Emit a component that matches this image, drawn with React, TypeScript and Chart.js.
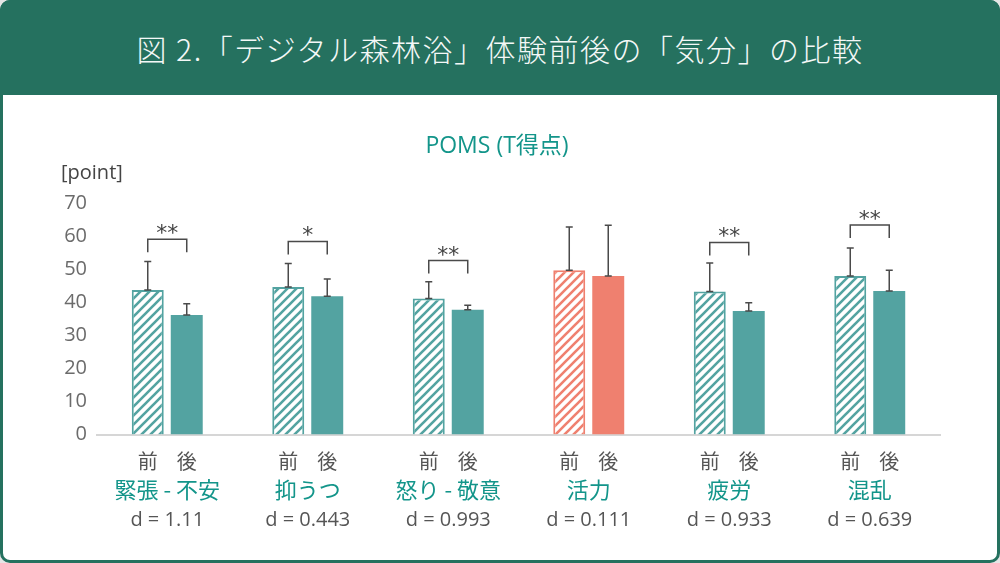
import React, { useEffect, useRef } from "react";
import { Chart, registerables } from "chart.js";

Chart.register(...registerables);

// ---- data ----
const chartTitle = "POMS (T得点)";
const yAxisUnit = "[point]";
const categories = ["緊張 - 不安", "抑うつ", "怒り - 敬意", "活力", "疲労", "混乱"];
const timeLabels = ["前", "後"];
const preMeans = [43.8, 44.7, 41.2, 49.8, 43.3, 48.0];
const postMeans = [36.2, 41.9, 37.8, 48.0, 37.4, 43.5];
const preSD = [8.6, 7.1, 5.1, 13.1, 8.7, 8.5];
const postSD = [3.4, 5.2, 1.4, 15.4, 2.5, 6.3];
const effectSizes = ["d = 1.11", "d = 0.443", "d = 0.993", "d = 0.111", "d = 0.933", "d = 0.639"];
const significance = ["**", "*", "**", "", "**", "**"];
const bracketLevels: (number | null)[] = [59.2, 58.5, 52.7, null, 58.2, 63.5];
const yTicks = [0, 10, 20, 30, 40, 50, 60, 70];
const highlighted = [false, false, false, true, false, false];

// ---- styles ----
const TEAL = "#53a3a1";
const SALMON = "#ef806f";
const HEADER = "#25715f";
const TEXT_TEAL = "#13958a";
const FONT = '"Open Sans", "Noto Sans CJK JP", sans-serif';
const JP_FONT = '"Noto Sans CJK JP", "Open Sans", sans-serif';

function makeHatch(color: string): CanvasPattern | string {
  const s = 9;
  const c = document.createElement("canvas");
  c.width = s;
  c.height = s;
  const g = c.getContext("2d");
  if (!g) return color;
  g.fillStyle = "#ffffff";
  g.fillRect(0, 0, s, s);
  g.strokeStyle = color;
  g.lineWidth = 2.6;
  g.beginPath();
  g.moveTo(-2, s + 2);
  g.lineTo(s + 2, -2);
  g.moveTo(-2, 2);
  g.lineTo(2, -2);
  g.moveTo(s - 2, s + 2);
  g.lineTo(s + 2, s - 2);
  g.stroke();
  return g.createPattern(c, "repeat") || color;
}

const overlayPlugin = {
  id: "overlay",
  afterDatasetsDraw(chart: any) {
    const ctx: CanvasRenderingContext2D = chart.ctx;
    const yScale = chart.scales.y;
    const metaPre = chart.getDatasetMeta(0);
    const metaPost = chart.getDatasetMeta(1);
    const sds = [preSD, postSD];
    const means = [preMeans, postMeans];
    ctx.save();
    // error bars
    ctx.strokeStyle = "#4a4a4a";
    ctx.lineWidth = 1.5;
    [metaPre, metaPost].forEach((meta: any, di: number) => {
      meta.data.forEach((bar: any, i: number) => {
        const x = bar.x;
        const y0 = yScale.getPixelForValue(means[di][i]);
        const y1 = yScale.getPixelForValue(means[di][i] + sds[di][i]);
        ctx.beginPath();
        ctx.moveTo(x, y0);
        ctx.lineTo(x, y1);
        ctx.moveTo(x - 3.5, y1);
        ctx.lineTo(x + 3.5, y1);
        ctx.moveTo(x - 3.5, y0);
        ctx.lineTo(x + 3.5, y0);
        ctx.stroke();
      });
    });
    // brackets and stars
    categories.forEach((_, i) => {
      const lvl = bracketLevels[i];
      if (lvl == null) return;
      const xa = metaPre.data[i].x;
      const xb = metaPost.data[i].x;
      const yt = yScale.getPixelForValue(lvl);
      ctx.strokeStyle = "#4a4a4a";
      ctx.lineWidth = 1.5;
      ctx.beginPath();
      ctx.moveTo(xa, yt + 13);
      ctx.lineTo(xa, yt);
      ctx.lineTo(xb, yt);
      ctx.lineTo(xb, yt + 13);
      ctx.stroke();
      ctx.fillStyle = "#444";
      ctx.font = '22px "DejaVu Sans", sans-serif';
      ctx.textAlign = "center";
      ctx.textBaseline = "alphabetic";
      const m = ctx.measureText(significance[i]);
      const cy = yt - 10;
      const by = cy + (m.actualBoundingBoxAscent - m.actualBoundingBoxDescent) / 2;
      ctx.fillText(significance[i], (xa + xb) / 2, by);
    });
    ctx.restore();
  },
  afterDraw(chart: any) {
    const ctx: CanvasRenderingContext2D = chart.ctx;
    const metaPre = chart.getDatasetMeta(0);
    const metaPost = chart.getDatasetMeta(1);
    const xScale = chart.scales.x;
    ctx.save();
    ctx.textAlign = "center";
    ctx.textBaseline = "middle";
    // chart title
    ctx.fillStyle = TEXT_TEAL;
    ctx.font = "23px " + FONT;
    ctx.fillText(chartTitle, 497, 146);
    // time labels
    ctx.fillStyle = "#555";
    ctx.font = "20px " + JP_FONT;
    categories.forEach((_, i) => {
      ctx.fillText(timeLabels[0], metaPre.data[i].x, 461);
      ctx.fillText(timeLabels[1], metaPost.data[i].x, 461);
    });
    // effect sizes
    ctx.font = "20px " + FONT;
    categories.forEach((_, i) => {
      ctx.fillText(effectSizes[i], xScale.getPixelForValue(i), 520);
    });
    // unit
    ctx.textAlign = "left";
    ctx.fillStyle = "#444";
    ctx.fillText(yAxisUnit, 61, 173);
    ctx.restore();
  },
};

export default function App() {
  const ref = useRef<HTMLCanvasElement>(null);

  useEffect(() => {
    document.body.style.margin = "0";
    const canvas = ref.current;
    if (!canvas) return;
    const tealHatch = makeHatch(TEAL);
    const salmonHatch = makeHatch(SALMON);
    const chart = new Chart(canvas, {
      type: "bar",
      data: {
        labels: categories,
        datasets: [
          {
            label: timeLabels[0],
            data: preMeans,
            backgroundColor: highlighted.map((h) => (h ? salmonHatch : tealHatch)) as any,
            borderColor: highlighted.map((h) => (h ? SALMON : TEAL)),
            borderWidth: 2,
            categoryPercentage: 0.555,
            barPercentage: 0.82,
          },
          {
            label: timeLabels[1],
            data: postMeans,
            backgroundColor: highlighted.map((h) => (h ? SALMON : TEAL)),
            borderWidth: 0,
            categoryPercentage: 0.555,
            barPercentage: 0.82,
          },
        ],
      },
      options: {
        responsive: false,
        animation: false,
        devicePixelRatio: 1,
        layout: { padding: { left: 0, right: 60, top: 203.5, bottom: 0 } },
        plugins: {
          legend: { display: false },
          tooltip: { enabled: false },
          title: { display: false },
        },
        scales: {
          x: {
            grid: { display: false, drawTicks: false },
            border: { display: true, color: "#d6d6d6", width: 2 },
            ticks: {
              color: TEXT_TEAL,
              font: { family: JP_FONT, size: 22, weight: "normal" },
              padding: 41.8,
              autoSkip: false,
              maxRotation: 0,
            },
            afterFit: (s: any) => {
              s.height = 128.5;
            },
          },
          y: {
            min: 0,
            max: 70,
            grid: { display: false, drawTicks: false },
            border: { display: false },
            ticks: {
              color: "#6b6b6b",
              font: { family: FONT, size: 20 },
              padding: 10,
            },
            afterBuildTicks: (s: any) => {
              s.ticks = yTicks.map((v) => ({ value: v }));
            },
            afterFit: (s: any) => {
              s.width = 97;
            },
          },
        },
      },
      plugins: [overlayPlugin],
    });
    return () => chart.destroy();
  }, []);

  return (
    <div style={{ position: "relative", width: 1000, height: 563, background: "#e6e6e6", overflow: "hidden" }}>
      <div
        style={{
          position: "absolute",
          left: 0,
          top: 0,
          width: 1000,
          height: 563,
          boxSizing: "border-box",
          border: `3px solid ${HEADER}`,
          borderRadius: 10,
          background: "#ffffff",
        }}
      />
      <div
        style={{
          position: "absolute",
          left: 0,
          top: 0,
          width: 1000,
          height: 95,
          background: HEADER,
          borderTopLeftRadius: 10,
          borderTopRightRadius: 10,
          display: "flex",
          alignItems: "center",
          justifyContent: "center",
          color: "#f4f8f7",
          fontFamily: JP_FONT,
          fontWeight: 300,
          fontSize: 30,
          letterSpacing: 1.5,
          whiteSpace: "nowrap",
        }}
      >
        図 2.「デジタル森林浴」体験前後の「気分」の比較
      </div>
      <canvas ref={ref} width={1000} height={563} style={{ position: "absolute", left: 0, top: 0, width: 1000, height: 563 }} />
    </div>
  );
}
